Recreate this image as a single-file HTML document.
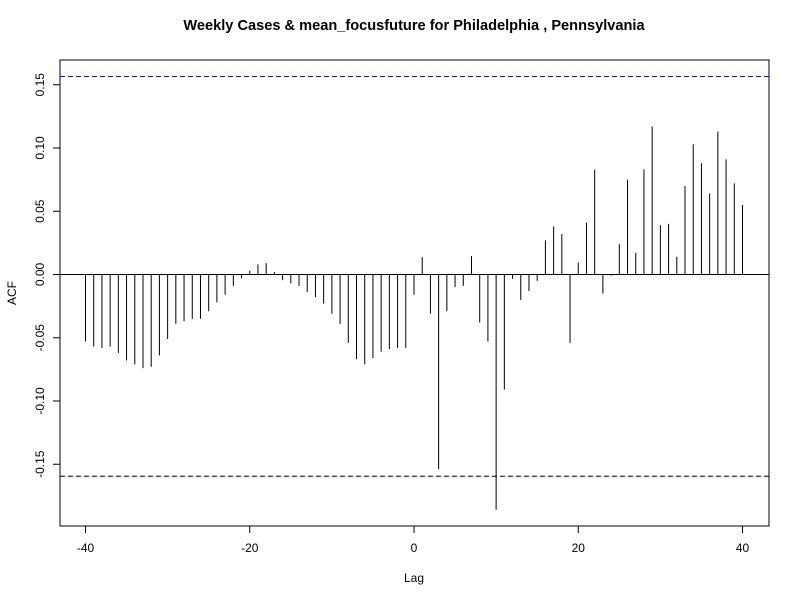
<!DOCTYPE html>
<html><head><meta charset="utf-8"><style>
body{margin:0;background:#fff;}
svg{display:block;font-family:"Liberation Sans",Arial,sans-serif;}
</style></head><body>
<svg id="chart" width="800" height="600" viewBox="0 0 800 600">
<rect x="0" y="0" width="800" height="600" fill="#fff"/>
<text x="414" y="30" text-anchor="middle" font-size="14.6" font-weight="bold">Weekly Cases &amp; mean_focusfuture for Philadelphia , Pennsylvania</text>
<rect x="60" y="60" width="709" height="466" fill="none" stroke="#000" stroke-width="1"/>
<g id="xaxis"></g>
<g id="yaxis"></g>
<text x="414" y="582" text-anchor="middle" font-size="12">Lag</text>
<text transform="translate(16,293) rotate(-90)" text-anchor="middle" font-size="12">ACF</text>
<g id="marks"></g>
</svg>
<script>
const lags = [];
for (let l = -40; l <= 40; l++) lags.push(l);
const acfValues = [
-0.053,-0.057,-0.058,-0.057,-0.062,-0.068,-0.071,-0.074,-0.073,-0.064,
-0.051,-0.039,-0.037,-0.035,-0.035,-0.029,-0.022,-0.016,-0.009,-0.003,
0.003,0.008,0.009,0.002,-0.0045,-0.007,-0.009,-0.014,-0.018,-0.023,
-0.031,-0.039,-0.054,-0.067,-0.071,-0.066,-0.061,-0.059,-0.058,-0.058,
-0.016,
0.0137,-0.031,-0.154,-0.029,-0.010,-0.009,0.0145,-0.038,-0.053,-0.186,
-0.091,-0.0034,-0.020,-0.013,-0.005,0.027,0.038,0.032,-0.054,0.0095,
0.041,0.083,-0.015,-0.001,0.024,0.075,0.017,0.083,0.117,0.039,
0.040,0.014,0.070,0.103,0.088,0.064,0.113,0.091,0.072,0.055];
const xTicks = [-40,-20,0,20,40];
const yTicks = [-0.15,-0.10,-0.05,0.00,0.05,0.10,0.15];
const yTickLabels = ["-0.15","-0.10","-0.05","0.00","0.05","0.10","0.15"];
const ciUpper = 0.1565;
const ciLower = -0.1595;

const NS = "http://www.w3.org/2000/svg";
const xs = v => 414 + v * 8.2125;
const ys = v => 274.5 - v * 1265;
function mk(parent, tag, attrs) {
  const e = document.createElementNS(NS, tag);
  for (const k in attrs) e.setAttribute(k, attrs[k]);
  document.getElementById(parent).appendChild(e);
  return e;
}
let ax = mk("xaxis","line",{x1:xs(-40),x2:xs(40),y1:526,y2:526,stroke:"#000"});


xTicks.forEach(t => {
  const l = mk("xaxis","line",{x1:xs(t),x2:xs(t),y1:526,y2:533,stroke:"#000"});
  
  
  const tx = mk("xaxis","text",{x:xs(t),y:552,"text-anchor":"middle","font-size":"12"});
  tx.textContent = t;
  
  
});
let ay = mk("yaxis","line",{x1:60,x2:60,y1:ys(0.15),y2:ys(-0.15),stroke:"#000"});


yTicks.forEach((t,i) => {
  const l = mk("yaxis","line",{x1:53,x2:60,y1:ys(t),y2:ys(t),stroke:"#000"});
  
  
  const tx = mk("yaxis","text",{transform:`translate(44,${ys(t)}) rotate(-90)`,"text-anchor":"middle","font-size":"12"});
  tx.textContent = yTickLabels[i];
  
  
});
const z = mk("marks","line",{x1:60,x2:769,y1:ys(0),y2:ys(0),stroke:"#000"});


const cu = mk("marks","line",{x1:60,x2:769,y1:ys(ciUpper),y2:ys(ciUpper),stroke:"#0000ff","stroke-dasharray":"5,3"});


const cl = mk("marks","line",{x1:60,x2:769,y1:ys(ciLower),y2:ys(ciLower),stroke:"#000","stroke-dasharray":"5,3"});


lags.forEach((l,i) => {
  const b = mk("marks","line",{x1:xs(l),x2:xs(l),y1:ys(0),y2:ys(acfValues[i]),stroke:"#000","stroke-width":"1"});
  
  
});
</script>
</body></html>
